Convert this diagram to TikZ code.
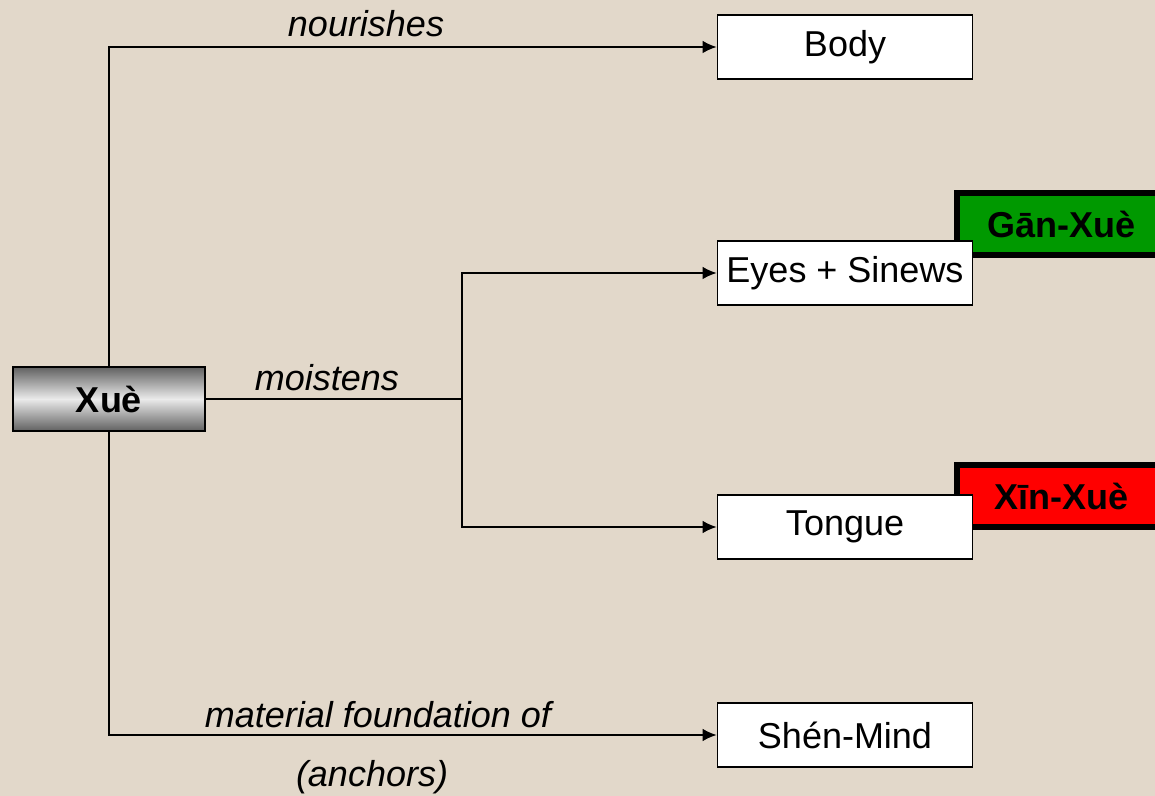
\documentclass[tikz,border=0pt]{standalone}
\usepackage{fontspec}
\setmainfont{Liberation Sans}
\usepackage{xcolor}
\usetikzlibrary{arrows.meta,positioning,calc}

\definecolor{paper}{RGB}{226,216,202}
\definecolor{ganGreen}{RGB}{0,153,0}
\definecolor{xinRed}{RGB}{255,0,0}

\begin{document}
\begin{tikzpicture}[
  font=\fontsize{25.6}{30}\selectfont,
  every node/.style={align=center},
  organ/.style={draw=black, fill=white, line width=1.2pt, minimum width=6.375cm,
                minimum height=1.6cm, inner sep=2pt},
  root/.style={draw=black, line width=1.2pt, minimum width=4.8cm, minimum height=1.6cm,
               top color=black!62, bottom color=black!62, middle color=black!8,
               font=\fontsize{25.6}{30}\selectfont\bfseries},
  tag/.style={draw=black, line width=4.3pt, minimum width=5.2cm, minimum height=1.55cm,
              font=\fontsize{25.6}{30}\selectfont\bfseries},
  verb/.style={font=\fontsize{25.6}{30}\selectfont\itshape},
  arr/.style={-{Latex[length=10pt,width=9pt]}, black, line width=1.2pt},
  lin/.style={black, line width=1.2pt},
]

%% --- Background ---
\useasboundingbox (0,0) rectangle (28.875,19.9);
\clip (0,0) rectangle (28.875,19.9);
\fill[paper] (0,0) rectangle (28.875,19.9);

%% --- Tags (behind the organ boxes) ---
\node[tag, fill=ganGreen] (Gan) at (26.525,14.3) {Gān-Xuè};
\node[tag, fill=xinRed]   (Xin) at (26.525, 7.5) {Xīn-Xuè};

%% --- Source ---
\node[root] (Xue) at (2.725,9.925) {Xuè};

%% --- Targets ---
\node[organ] (Body)   at (21.125,18.725) {Body};
\node[organ] (Eyes)   at (21.125,13.075) {Eyes + Sinews};
\node[organ] (Tongue) at (21.125, 6.725) {Tongue};
\node[organ] (Shen)   at (21.125, 1.525) {Shén-Mind};

%% --- Connectors ---
\coordinate (fork) at (11.55,9.925);
\draw[arr] (Xue.north) |- (Body.west);
\draw[arr] (Xue.south) |- (Shen.west);
\draw[lin] (Xue.east) -- (fork);
\draw[arr] (fork) |- (Eyes.west);
\draw[arr] (fork) |- (Tongue.west);

%% --- Labels ---
\node[verb] (lNour) at (9.15,19.3)  {nourishes};
\node[verb] (lMois) at (8.175,10.45) {moistens};
\node[verb] (lMat)  at (9.45,2.025) {material foundation of};
\node[verb] (lAnch) at (9.3,0.475)  {(anchors)};

\end{tikzpicture}
\end{document}
